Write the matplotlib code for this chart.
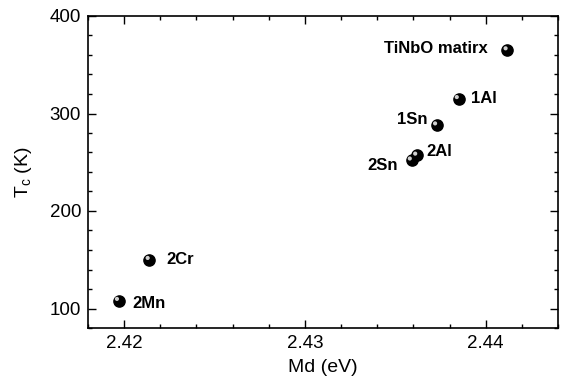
import matplotlib
matplotlib.use("Agg")
import matplotlib.pyplot as plt
from matplotlib.ticker import MultipleLocator, FormatStrFormatter
from matplotlib.transforms import offset_copy

plt.rcParams["font.family"] = ["Liberation Sans", "DejaVu Sans"]

labels = ["TiNbO matirx", "1Al", "1Sn", "2Al", "2Sn", "2Cr", "2Mn"]
md = [2.4412, 2.4385, 2.4373, 2.4362, 2.4359, 2.4214, 2.4197]
tc = [365, 315, 288, 257, 252, 150, 108]
# label offsets in points (dx, dy) and alignment
offsets = [(-14, 1), (9, 0), (-7, 4), (7, 3), (-10, -4), (12, 0), (10, -2)]
aligns = ["right", "left", "right", "left", "right", "left", "left"]

fig = plt.figure(figsize=(5.61, 3.84), dpi=100)
ax = fig.add_axes([88 / 561, 1 - 328 / 384, (558 - 88) / 561, (328 - 16) / 384])

ax.scatter(md, tc, s=65, color="black", zorder=3)
hl = offset_copy(ax.transData, fig=fig, x=-1.3, y=1.3, units="points")
ax.scatter(md, tc, s=9, color="#d0d0d0", edgecolors="none", transform=hl, zorder=4)

for lab, x, y, (dx, dy), ha in zip(labels, md, tc, offsets, aligns):
    ax.annotate(lab, (x, y), xytext=(dx, dy), textcoords="offset points",
                ha=ha, va="center", fontsize=12, fontweight="bold")

ax.set_xlim(2.418, 2.444)
ax.set_ylim(80, 400)
ax.xaxis.set_major_locator(MultipleLocator(0.01))
ax.xaxis.set_minor_locator(MultipleLocator(0.002))
ax.yaxis.set_major_locator(MultipleLocator(100))
ax.yaxis.set_minor_locator(MultipleLocator(20))
ax.xaxis.set_major_formatter(FormatStrFormatter("%.2f"))
ax.tick_params(which="both", direction="in", top=True, right=True, labelsize=13.5, width=1)
ax.tick_params(which="major", length=6, pad=5)
ax.tick_params(which="minor", length=3)
for s in ax.spines.values():
    s.set_linewidth(1.2)

ax.set_xlabel("Md (eV)", fontsize=14, labelpad=5)
ax.set_ylabel("T$_\\mathregular{c}$ (K)", fontsize=14, labelpad=11)

fig.savefig("out.png", dpi=100)
